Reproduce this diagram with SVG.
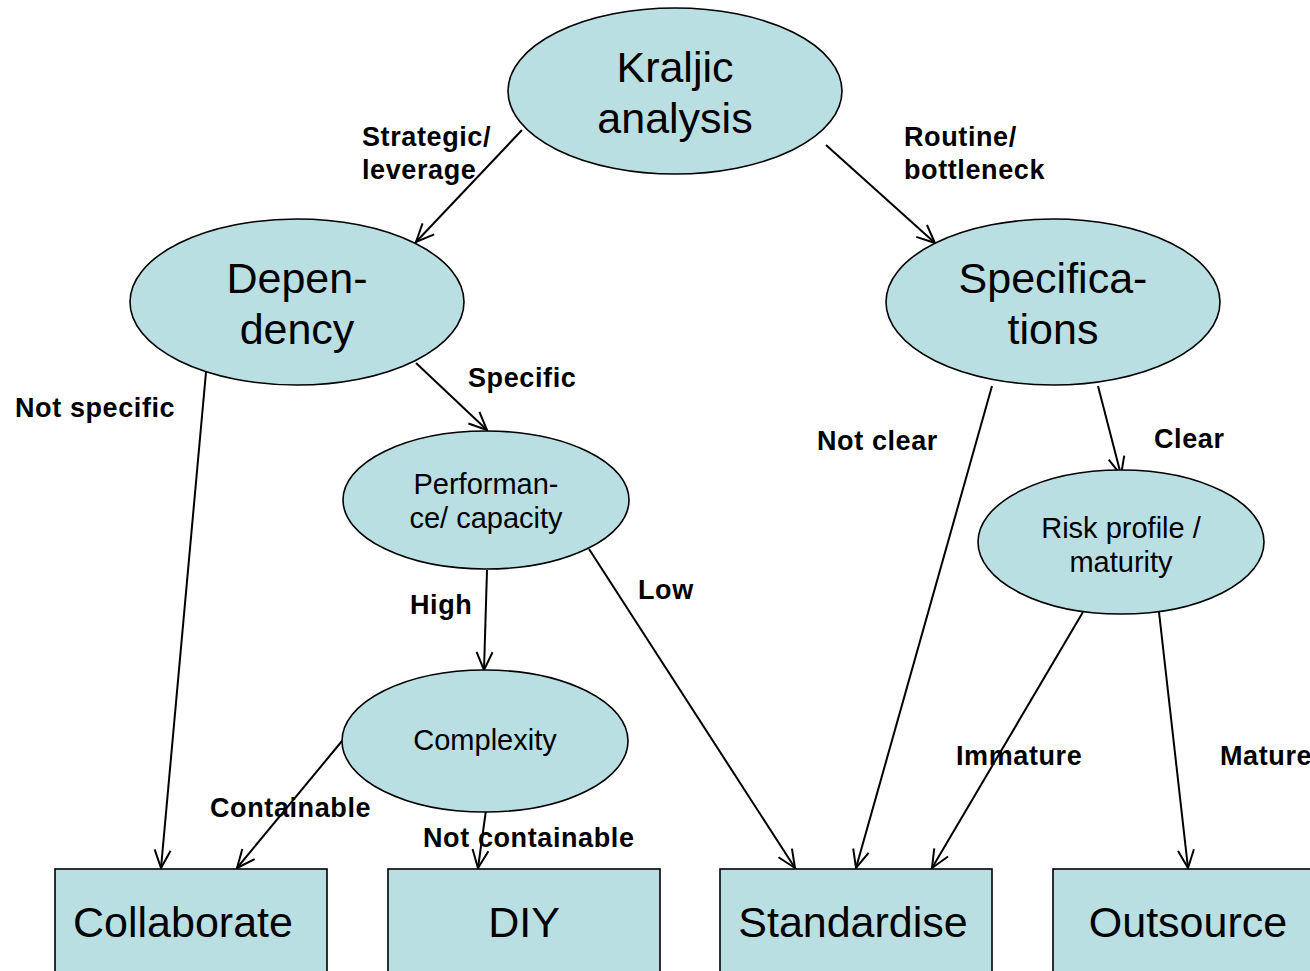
<svg xmlns="http://www.w3.org/2000/svg" width="1310" height="971" viewBox="0 0 1310 971">
  <style>
    .node { fill: #BADFE3; stroke: #000; stroke-width: 1.6; }
    .big { font-family: "Liberation Sans", Arial, sans-serif; font-size: 43px; fill: #000; text-anchor: middle; }
    .mid { font-family: "Liberation Sans", Arial, sans-serif; font-size: 29px; fill: #000; text-anchor: middle; }
    .lbl { font-family: "Liberation Sans", Arial, sans-serif; font-size: 27px; letter-spacing: 0.6px; font-weight: bold; fill: #000; }
    .edge { stroke: #000; stroke-width: 2; fill: none; marker-end: url(#arrow); }
  </style>
  <defs>
    <marker id="arrow" markerUnits="userSpaceOnUse" markerWidth="22" markerHeight="22" viewBox="0 0 22 22" refX="20" refY="11" orient="auto">
      <path d="M2,3 L20,11 L2,19" fill="none" stroke="#000" stroke-width="2"/>
    </marker>
  </defs>

  <rect width="1310" height="971" fill="#fff"/>

  <!-- connectors -->
  <g id="connectors">
    <line class="edge" x1="522" y1="130" x2="416" y2="242"/>
    <line class="edge" x1="826" y1="145" x2="935" y2="243"/>
    <line class="edge" x1="206" y1="372" x2="161" y2="868"/>
    <line class="edge" x1="416" y1="363" x2="487" y2="430"/>
    <line class="edge" x1="487" y1="570" x2="484" y2="670"/>
    <line class="edge" x1="589" y1="549" x2="795" y2="868"/>
    <line class="edge" x1="342" y1="741" x2="237" y2="868"/>
    <line class="edge" x1="486" y1="810" x2="478" y2="868"/>
    <line class="edge" x1="992" y1="386" x2="856" y2="868"/>
    <line class="edge" x1="1098" y1="386" x2="1121" y2="475"/>
    <line class="edge" x1="1083" y1="612" x2="932" y2="868"/>
    <line class="edge" x1="1159" y1="612" x2="1188" y2="868"/>
  </g>

  <!-- decision nodes -->
  <g id="kraljic">
    <ellipse class="node" cx="675" cy="91" rx="167" ry="83"/>
    <text class="big" x="675" y="82">Kraljic</text>
    <text class="big" x="675" y="133">analysis</text>
  </g>
  <g id="dependency">
    <ellipse class="node" cx="297" cy="302" rx="167" ry="83"/>
    <text class="big" x="297" y="293">Depen-</text>
    <text class="big" x="297" y="344">dency</text>
  </g>
  <g id="specifications">
    <ellipse class="node" cx="1053" cy="302" rx="167" ry="83"/>
    <text class="big" x="1053" y="293">Specifica-</text>
    <text class="big" x="1053" y="344">tions</text>
  </g>
  <g id="performance">
    <ellipse class="node" cx="486" cy="500" rx="143" ry="69"/>
    <text class="mid" x="486" y="494">Performan-</text>
    <text class="mid" x="486" y="528">ce/ capacity</text>
  </g>
  <g id="risk">
    <ellipse class="node" cx="1121" cy="542" rx="143" ry="72"/>
    <text class="mid" x="1121" y="538">Risk profile /</text>
    <text class="mid" x="1121" y="572">maturity</text>
  </g>
  <g id="complexity">
    <ellipse class="node" cx="485" cy="741" rx="143" ry="71"/>
    <text class="mid" x="485" y="750">Complexity</text>
  </g>

  <!-- outcome boxes -->
  <g id="collaborate">
    <rect class="node" x="55" y="869" width="272" height="140"/>
    <text class="big" x="183" y="937">Collaborate</text>
  </g>
  <g id="diy">
    <rect class="node" x="388" y="869" width="272" height="140"/>
    <text class="big" x="524" y="937">DIY</text>
  </g>
  <g id="standardise">
    <rect class="node" x="720" y="869" width="272" height="140"/>
    <text class="big" x="853" y="937">Standardise</text>
  </g>
  <g id="outsource">
    <rect class="node" x="1053" y="869" width="272" height="140"/>
    <text class="big" x="1188" y="937">Outsource</text>
  </g>

  <!-- edge labels -->
  <g id="labels">
    <text class="lbl" x="362" y="146">Strategic/</text>
    <text class="lbl" x="362" y="179">leverage</text>
    <text class="lbl" x="904" y="146">Routine/</text>
    <text class="lbl" x="904" y="179">bottleneck</text>
    <text class="lbl" x="15" y="417">Not specific</text>
    <text class="lbl" x="468" y="387">Specific</text>
    <text class="lbl" x="817" y="450">Not clear</text>
    <text class="lbl" x="1154" y="448">Clear</text>
    <text class="lbl" x="410" y="614">High</text>
    <text class="lbl" x="638" y="599">Low</text>
    <text class="lbl" x="956" y="765">Immature</text>
    <text class="lbl" x="1220" y="765">Mature</text>
    <text class="lbl" x="210" y="817">Containable</text>
    <text class="lbl" x="423" y="847">Not containable</text>
  </g>
</svg>
